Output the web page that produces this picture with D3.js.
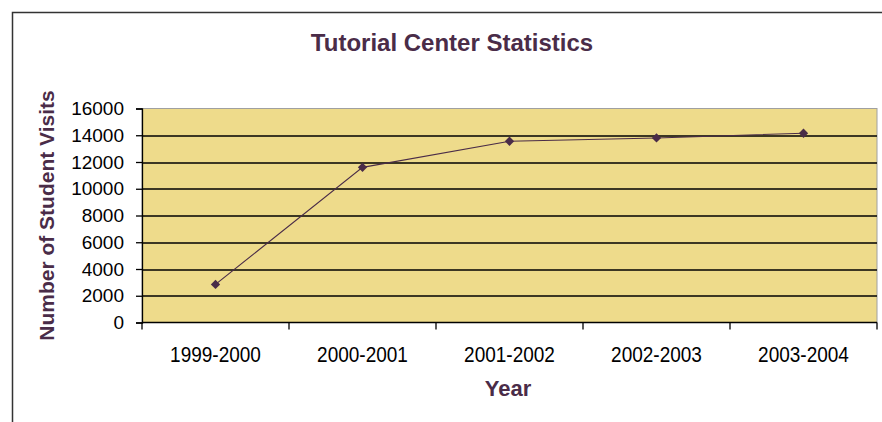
<!DOCTYPE html>
<html lang="en">
<head>
<meta charset="UTF-8">
<title>Tutorial Center Statistics</title>
<script src="https://d3js.org/d3.v7.min.js"></script>
<style>
  body { margin: 0; background: #fff; }
  svg text { font-family: Arial, "Liberation Sans", sans-serif; }
</style>
</head>
<body>
<div id="chart"></div>
<script>
// data
const years = ["1999-2000", "2000-2001", "2001-2002", "2002-2003", "2003-2004"];
const visits = [2850, 11600, 13550, 13800, 14150];
const yTicks = [0, 2000, 4000, 6000, 8000, 10000, 12000, 14000, 16000];

const W = 882, H = 422;
const margin = { top: 108.5, right: 5, bottom: 99.5, left: 142 };
const width = W - margin.left - margin.right;
const height = H - margin.top - margin.bottom;
const purple = "#4a2c48";

const svg = d3.select("#chart").append("svg")
  .attr("width", W).attr("height", H);

// outer chart border (only left and top show in the crop)
svg.append("path")
  .attr("d", `M12.5,${H} V12.5 H${W}`)
  .attr("fill", "none").attr("stroke", "#333").attr("stroke-width", 1.5);

svg.append("text")
  .attr("x", 452).attr("y", 51)
  .attr("text-anchor", "middle")
  .attr("font-size", 24).attr("font-weight", "bold")
  .attr("fill", purple)
  .text("Tutorial Center Statistics");

const g = svg.append("g").attr("transform", `translate(${margin.left},${margin.top})`);

const x = d3.scaleBand().domain(years).range([0, width]);
const y = d3.scaleLinear().domain([0, 16000]).range([height, 0]);

g.append("rect")
  .attr("width", width).attr("height", height)
  .attr("fill", "#eedb8b").attr("stroke", "#a0a0a0").attr("stroke-width", 1);

// gridlines
g.selectAll(".grid").data(yTicks.filter(d => d > 0 && d < 16000)).join("line")
  .attr("x1", 0).attr("x2", width)
  .attr("y1", d => Math.round(y(d)) + 0.5).attr("y2", d => Math.round(y(d)) + 0.5)
  .attr("stroke", "#000").attr("stroke-width", 1.3);

const yAxis = g.append("g")
  .call(d3.axisLeft(y).tickValues(yTicks).tickSize(6).tickPadding(12).tickFormat(d3.format("d")));
yAxis.selectAll("text").attr("font-size", 19).attr("fill", "#000").attr("font-family", "Arial, 'Liberation Sans', sans-serif");
yAxis.selectAll("line, path").attr("stroke", "#000").attr("stroke-width", 1.3);

// category axis: ticks between categories
const xAxis = g.append("g").attr("transform", `translate(0,${height})`);
xAxis.append("line").attr("x1", 0).attr("x2", width).attr("stroke", "#000").attr("stroke-width", 1.3);
xAxis.selectAll(".tk").data(d3.range(years.length + 1)).join("line")
  .attr("x1", i => i * x.step()).attr("x2", i => i * x.step())
  .attr("y1", 0).attr("y2", 7).attr("stroke", "#000").attr("stroke-width", 1.3);
xAxis.selectAll("text").data(years).join("text")
  .attr("transform", d => `translate(${x(d) + x.bandwidth() / 2},39) scale(1,1.15)`)
  .attr("text-anchor", "middle").attr("font-size", 19).attr("fill", "#000")
  .text(d => d);

const line = d3.line()
  .x((d, i) => x(years[i]) + x.bandwidth() / 2)
  .y(d => y(d));

g.append("path").datum(visits)
  .attr("d", line).attr("fill", "none")
  .attr("stroke", purple).attr("stroke-width", 1.1);

g.selectAll(".pt").data(visits).join("path")
  .attr("transform", (d, i) => `translate(${x(years[i]) + x.bandwidth() / 2},${y(d)})`)
  .attr("d", d3.symbol().type(d3.symbolDiamond2).size(55))
  .attr("fill", purple);

svg.append("text")
  .attr("transform", `translate(54,${margin.top + height / 2}) rotate(-90)`)
  .attr("text-anchor", "middle")
  .attr("font-size", 21).attr("font-weight", "bold").attr("fill", purple)
  .text("Number of Student Visits");

svg.append("text")
  .attr("x", 508).attr("y", 396)
  .attr("text-anchor", "middle")
  .attr("font-size", 22).attr("font-weight", "bold").attr("fill", purple)
  .text("Year");
</script>
</body>
</html>
